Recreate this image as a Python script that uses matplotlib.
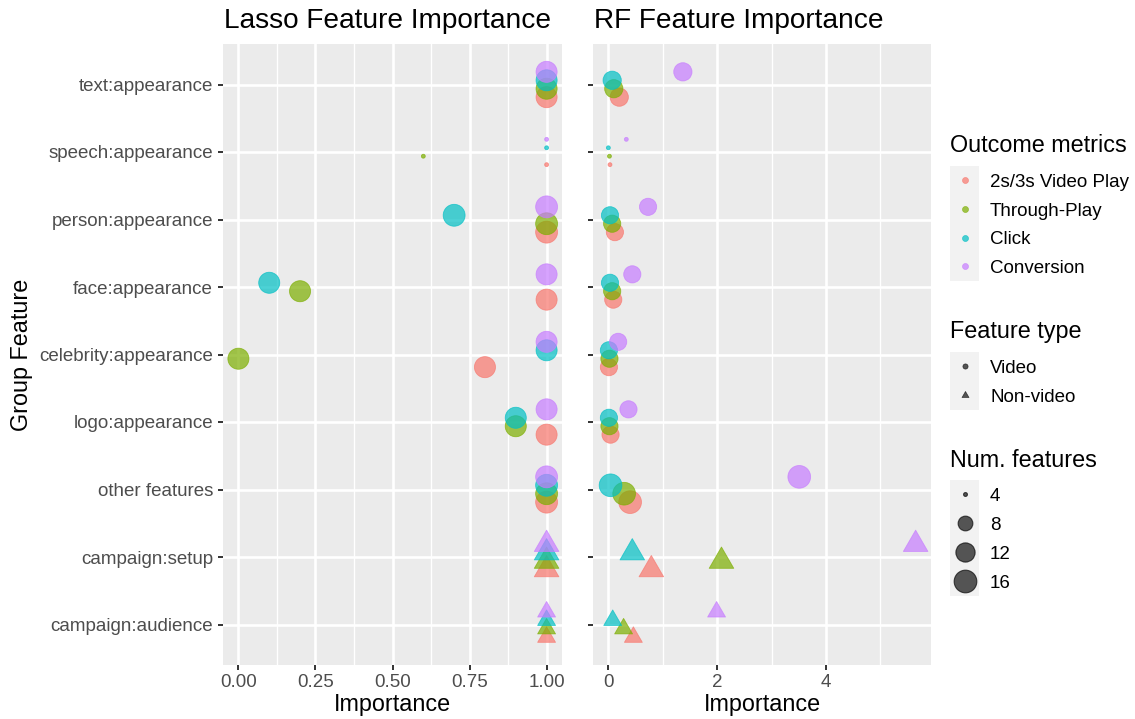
import numpy as np
import matplotlib
matplotlib.use("Agg")
import matplotlib.pyplot as plt
from matplotlib.path import Path
from matplotlib.patches import Rectangle

# ---- data -------------------------------------------------------------
groups = ["text:appearance", "speech:appearance", "person:appearance",
          "face:appearance", "celebrity:appearance", "logo:appearance",
          "other features", "campaign:setup", "campaign:audience"]
feature_type = ["Video", "Video", "Video", "Video", "Video", "Video",
                "Video", "Non-video", "Non-video"]
metrics = ["2s/3s Video Play", "Through-Play", "Click", "Conversion"]
metric_colors = ["#F8766D", "#7CAE00", "#00BFC4", "#C77CFF"]

# Lasso importance per metric (group order as above)
lasso_video_play = [1.0, 1.0, 1.0, 1.0, 0.8, 1.0, 1.0, 1.0, 1.0]
lasso_through_play = [1.0, 0.6, 1.0, 0.2, 0.0, 0.9, 1.0, 1.0, 1.0]
lasso_click = [1.0, 1.0, 0.7, 0.1, 1.0, 0.9, 1.0, 1.0, 1.0]
lasso_conversion = [1.0, 1.0, 1.0, 1.0, 1.0, 1.0, 1.0, 1.0, 1.0]

# Random forest importance per metric
rf_video_play = [0.20, 0.03, 0.12, 0.09, 0.01, 0.04, 0.40, 0.79, 0.46]
rf_through_play = [0.10, 0.02, 0.07, 0.07, 0.02, 0.02, 0.29, 2.08, 0.28]
rf_click = [0.07, 0.00, 0.03, 0.03, 0.01, 0.01, 0.04, 0.44, 0.08]
rf_conversion = [1.37, 0.33, 0.73, 0.44, 0.18, 0.37, 3.51, 5.65, 1.99]

# number of features in each group, per model
lasso_num_features = [14, 4, 15, 14, 14, 14, 15, 11, 7]
rf_num_features = [11, 4, 10, 10, 10, 10, 16, 11, 7]
size_breaks = [4, 8, 12, 16]

lasso_ticks = [0.0, 0.25, 0.5, 0.75, 1.0]
lasso_ticklabels = ["0.00", "0.25", "0.50", "0.75", "1.00"]
rf_ticks = [0, 2, 4]
rf_ticklabels = ["0", "2", "4"]

# ---- style ------------------------------------------------------------
W, H, DPI = 1135, 719, 100
PX = 72.0 / DPI                      # points per pixel
FONT = "Liberation Sans"
BASE = 16.85
SMALL = 13.5
TITLE = 20.2
PANEL_BG = "#EBEBEB"
ALPHA = 0.7
SIZE_MIN, SIZE_MAX = 4, 17

plt.rcParams["font.family"] = [FONT, "DejaVu Sans"]

# equilateral triangle with the same area as a unit-radius circle (R pch 17)
TRI = Path([(0, 1.5551), (1.3468, -0.7776), (-1.3468, -0.7776), (0, 1.5551)],
           [Path.MOVETO, Path.LINETO, Path.LINETO, Path.CLOSEPOLY])
TRI_SCALE = 1.5551


def diameter_px(n):
    t = np.clip((np.asarray(n, float) - SIZE_MIN) / (SIZE_MAX - SIZE_MIN), 0, 1)
    return 3.91 * (1 + 5 * np.sqrt(t))


def scatter_pts(ax, x, y, d_px, triangle, color, **kw):
    m = np.asarray(d_px) * PX
    if triangle:
        ax.scatter(x, y, s=(m * TRI_SCALE) ** 2, marker=TRI, c=color,
                   alpha=ALPHA, linewidths=0.6, edgecolors=color, **kw)
    else:
        ax.scatter(x, y, s=m ** 2, marker="o", c=color,
                   alpha=ALPHA, linewidths=0.6, edgecolors=color, **kw)


fig = plt.figure(figsize=(W / DPI, H / DPI), dpi=DPI)


def fx(px):
    return px / W


def fy(py):
    return 1 - py / H


PANEL_TOP, PANEL_BOT = 44, 665
panels = [
    dict(left=223, right=562, title="Lasso Feature Importance",
         values=[lasso_video_play, lasso_through_play, lasso_click, lasso_conversion],
         nums=lasso_num_features, ticks=lasso_ticks, ticklabels=lasso_ticklabels,
         xlim=(-0.05, 1.05), minor=[0.125, 0.375, 0.625, 0.875], ylabels=True),
    dict(left=593, right=931, title="RF Feature Importance",
         values=[rf_video_play, rf_through_play, rf_click, rf_conversion],
         nums=rf_num_features, ticks=rf_ticks, ticklabels=rf_ticklabels,
         xlim=None, minor=[1, 3, 5], ylabels=False),
]

offsets = [0.1875, 0.0625, -0.0625, -0.1875]
n_groups = len(groups)
ypos = np.arange(n_groups)
is_tri = np.array([ft == "Non-video" for ft in feature_type])

for p in panels:
    ax = fig.add_axes([fx(p["left"]), fy(PANEL_BOT),
                       (p["right"] - p["left"]) / W, (PANEL_BOT - PANEL_TOP) / H])
    ax.set_facecolor(PANEL_BG)
    for s in ax.spines.values():
        s.set_visible(False)

    if p["xlim"] is None:
        allv = np.concatenate([np.asarray(v, float) for v in p["values"]])
        lo, hi = allv.min(), allv.max()
        pad = 0.05 * (hi - lo)
        xlim = (lo - pad, hi + pad)
    else:
        xlim = p["xlim"]
    ax.set_xlim(*xlim)
    ax.set_ylim(n_groups - 1 + 0.6, -0.6)

    # grid
    for xm in p["minor"]:
        ax.axvline(xm, color="white", lw=0.95, zorder=0.5)
    for xt in p["ticks"]:
        ax.axvline(xt, color="white", lw=1.9, zorder=0.6)
    for yy in ypos:
        ax.axhline(yy, color="white", lw=1.9, zorder=0.6)

    d = diameter_px(p["nums"])
    for k in range(len(metrics)):
        vals = np.asarray(p["values"][k], float)
        yk = ypos + offsets[k]
        col = metric_colors[k]
        scatter_pts(ax, vals[~is_tri], yk[~is_tri], d[~is_tri], False, col, zorder=3)
        scatter_pts(ax, vals[is_tri], yk[is_tri], d[is_tri], True, col, zorder=3)

    ax.set_xticks(p["ticks"])
    ax.set_xticklabels(p["ticklabels"])
    ax.set_yticks(ypos)
    ax.set_yticklabels(groups if p["ylabels"] else [])
    ax.tick_params(axis="both", length=3.6, width=1.4, color="#333333",
                   labelcolor="#4D4D4D", labelsize=SMALL, pad=3.2)
    ax.tick_params(axis="y", pad=3.6)

    fig.text(fx(p["left"] + 1), fy(28.5), p["title"], fontsize=TITLE,
             color="black", ha="left", va="baseline")
    fig.text(fx((p["left"] + p["right"]) / 2), fy(711), "Importance",
             fontsize=BASE, color="black", ha="center", va="baseline")

fig.text(fx(22), fy((PANEL_TOP + PANEL_BOT) / 2), "Group Feature", rotation=90,
         fontsize=BASE, color="black", ha="center", va="center")

# ---- legends ----------------------------------------------------------
leg = fig.add_axes([0, 0, 1, 1], facecolor="none")
leg.set_xlim(0, W)
leg.set_ylim(H, 0)
leg.axis("off")

KEY_X0, KEY_W = 950, 29
KEY_CX = KEY_X0 + KEY_W / 2
LABEL_X = 990
KEY_BG = "#F2F2F2"
GRAY = "black"


def legend_block(title, title_base, top, centers):
    leg.text(KEY_X0, title_base, title, fontsize=BASE, ha="left", va="baseline")
    step = centers[1] - centers[0] if len(centers) > 1 else 29
    bottom = centers[-1] + step / 2
    leg.add_patch(Rectangle((KEY_X0, top), KEY_W, bottom - top,
                            facecolor=KEY_BG, edgecolor="none"))


# Outcome metrics
oc = [180, 208.8, 237.6, 266.4]
legend_block("Outcome metrics", 152, 165.5, oc)
for k, lab in enumerate(metrics):
    leg.scatter([KEY_CX], [oc[k]], s=(6 * PX) ** 2, c=metric_colors[k],
                alpha=ALPHA, linewidths=0.5, edgecolors=metric_colors[k], zorder=3)
    leg.text(LABEL_X, oc[k] + 6.7, lab, fontsize=SMALL, ha="left", va="baseline")

# Feature type
fc = [366, 395]
legend_block("Feature type", 338, 351.5, fc)
leg.scatter([KEY_CX], [fc[0]], s=(5.2 * PX) ** 2, c=GRAY, alpha=0.65,
            linewidths=0.5, edgecolors=GRAY, zorder=3)
leg.scatter([KEY_CX], [fc[1]], s=(5.2 * PX * TRI_SCALE) ** 2, marker=TRI, c=GRAY,
            alpha=0.65, linewidths=0.5, edgecolors=GRAY, zorder=3)
leg.text(LABEL_X, fc[0] + 6.7, "Video", fontsize=SMALL, ha="left", va="baseline")
leg.text(LABEL_X, fc[1] + 6.7, "Non-video", fontsize=SMALL, ha="left", va="baseline")

# Num. features
nc = [494, 523, 552, 581]
legend_block("Num. features", 467, 480, nc)
for k, b in enumerate(size_breaks):
    leg.scatter([KEY_CX], [nc[k]], s=(diameter_px(b) * PX) ** 2, c=GRAY,
                alpha=0.65, linewidths=0.8, edgecolors=GRAY, zorder=3)
    leg.text(LABEL_X, nc[k] + 6.7, str(b), fontsize=SMALL, ha="left", va="baseline")

fig.savefig("out.png", dpi=DPI, facecolor="white")
